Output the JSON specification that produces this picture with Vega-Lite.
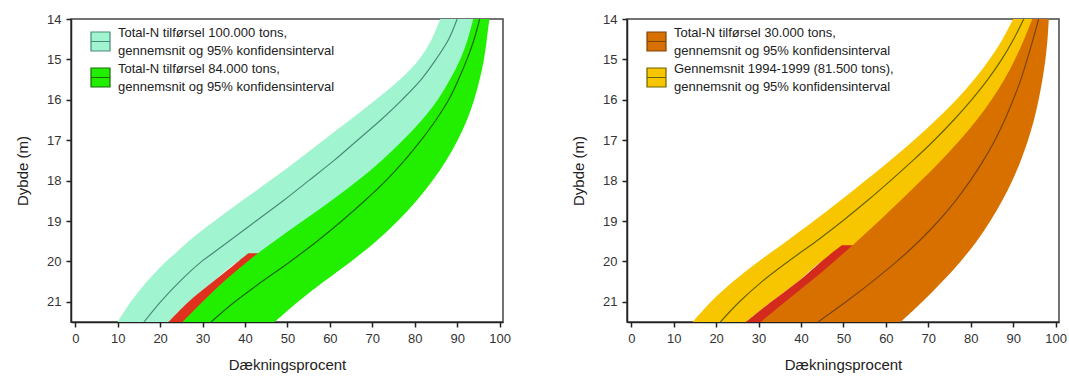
{
  "$schema": "https://vega.github.io/schema/vega-lite/v6.json",
  "background": "white",
  "padding": {"left": 14, "top": 12, "right": 6, "bottom": 3},
  "spacing": 58,
  "datasets": {
    "left": [
      {"grp": "A", "series": "100.000 tons", "depth": 14, "lo": 86, "mean": 90, "hi": 94.5},
      {"grp": "A", "series": "100.000 tons", "depth": 14.5, "lo": 84, "mean": 88, "hi": 93.5},
      {"grp": "A", "series": "100.000 tons", "depth": 15, "lo": 81, "mean": 85, "hi": 92},
      {"grp": "A", "series": "100.000 tons", "depth": 15.5, "lo": 76.5, "mean": 81.5, "hi": 90},
      {"grp": "A", "series": "100.000 tons", "depth": 16, "lo": 70.8, "mean": 77, "hi": 87.5},
      {"grp": "A", "series": "100.000 tons", "depth": 16.5, "lo": 64.7, "mean": 72, "hi": 84.5},
      {"grp": "A", "series": "100.000 tons", "depth": 17, "lo": 58.5, "mean": 66.5, "hi": 80},
      {"grp": "A", "series": "100.000 tons", "depth": 17.5, "lo": 52.3, "mean": 61, "hi": 75},
      {"grp": "A", "series": "100.000 tons", "depth": 18, "lo": 45.9, "mean": 55, "hi": 69.5},
      {"grp": "A", "series": "100.000 tons", "depth": 18.5, "lo": 39.3, "mean": 49, "hi": 63},
      {"grp": "A", "series": "100.000 tons", "depth": 19, "lo": 32.8, "mean": 42.6, "hi": 56.5},
      {"grp": "A", "series": "100.000 tons", "depth": 19.5, "lo": 26.7, "mean": 36.2, "hi": 49.5},
      {"grp": "A", "series": "100.000 tons", "depth": 19.8, "lo": 23.6, "mean": 32.4, "hi": 44},
      {"grp": "A", "series": "100.000 tons", "depth": 20, "lo": 21.4, "mean": 29.8, "hi": 38.4},
      {"grp": "A", "series": "100.000 tons", "depth": 20.5, "lo": 16.9, "mean": 24.6, "hi": 32.5},
      {"grp": "A", "series": "100.000 tons", "depth": 21, "lo": 13.1, "mean": 20.1, "hi": 26.7},
      {"grp": "A", "series": "100.000 tons", "depth": 21.5, "lo": 10, "mean": 16.2, "hi": 22},
      {"grp": "B", "series": "84.000 tons", "depth": 14, "lo": 93.8, "mean": 95.3, "hi": 97.6},
      {"grp": "B", "series": "84.000 tons", "depth": 14.5, "lo": 92.5, "mean": 94, "hi": 97},
      {"grp": "B", "series": "84.000 tons", "depth": 15, "lo": 90.7, "mean": 92.3, "hi": 96.3},
      {"grp": "B", "series": "84.000 tons", "depth": 15.5, "lo": 88.3, "mean": 90.3, "hi": 95.3},
      {"grp": "B", "series": "84.000 tons", "depth": 16, "lo": 85.4, "mean": 88, "hi": 94},
      {"grp": "B", "series": "84.000 tons", "depth": 16.5, "lo": 81.7, "mean": 85, "hi": 92.3},
      {"grp": "B", "series": "84.000 tons", "depth": 17, "lo": 77.2, "mean": 81.5, "hi": 90.1},
      {"grp": "B", "series": "84.000 tons", "depth": 17.5, "lo": 72.2, "mean": 77.6, "hi": 87.4},
      {"grp": "B", "series": "84.000 tons", "depth": 18, "lo": 66.6, "mean": 73.2, "hi": 84.2},
      {"grp": "B", "series": "84.000 tons", "depth": 18.5, "lo": 60.3, "mean": 68.2, "hi": 80.4},
      {"grp": "B", "series": "84.000 tons", "depth": 19, "lo": 53.6, "mean": 62.8, "hi": 76},
      {"grp": "B", "series": "84.000 tons", "depth": 19.5, "lo": 46.9, "mean": 57, "hi": 70.9},
      {"grp": "B", "series": "84.000 tons", "depth": 20, "lo": 40.6, "mean": 50.7, "hi": 65},
      {"grp": "B", "series": "84.000 tons", "depth": 20.5, "lo": 35, "mean": 44, "hi": 58.6},
      {"grp": "B", "series": "84.000 tons", "depth": 21, "lo": 30, "mean": 37.6, "hi": 52.5},
      {"grp": "B", "series": "84.000 tons", "depth": 21.5, "lo": 25.3, "mean": 32, "hi": 47},
      {"grp": "R", "series": "rød", "depth": 19.8, "lo": 40.8, "hi": 43.3},
      {"grp": "R", "series": "rød", "depth": 20, "lo": 38.4, "hi": 40.9},
      {"grp": "R", "series": "rød", "depth": 20.5, "lo": 32.5, "hi": 35.3},
      {"grp": "R", "series": "rød", "depth": 21, "lo": 26.7, "hi": 30.3},
      {"grp": "R", "series": "rød", "depth": 21.5, "lo": 22, "hi": 25.6}
    ],
    "right": [
      {"grp": "Y", "series": "81.500 tons", "depth": 14, "lo": 90, "mean": 92.5, "hi": 95.5},
      {"grp": "Y", "series": "81.500 tons", "depth": 14.5, "lo": 87.5, "mean": 90.1, "hi": 93.8},
      {"grp": "Y", "series": "81.500 tons", "depth": 15, "lo": 84.4, "mean": 87.3, "hi": 92},
      {"grp": "Y", "series": "81.500 tons", "depth": 15.5, "lo": 80.8, "mean": 84, "hi": 90},
      {"grp": "Y", "series": "81.500 tons", "depth": 16, "lo": 76.6, "mean": 80.2, "hi": 87.5},
      {"grp": "Y", "series": "81.500 tons", "depth": 16.5, "lo": 71.8, "mean": 76, "hi": 84},
      {"grp": "Y", "series": "81.500 tons", "depth": 17, "lo": 66.6, "mean": 71.4, "hi": 80.5},
      {"grp": "Y", "series": "81.500 tons", "depth": 17.5, "lo": 61, "mean": 66.4, "hi": 76},
      {"grp": "Y", "series": "81.500 tons", "depth": 18, "lo": 55.2, "mean": 61.1, "hi": 71},
      {"grp": "Y", "series": "81.500 tons", "depth": 18.5, "lo": 49.2, "mean": 55.6, "hi": 65},
      {"grp": "Y", "series": "81.500 tons", "depth": 19, "lo": 43, "mean": 49.8, "hi": 59},
      {"grp": "Y", "series": "81.500 tons", "depth": 19.5, "lo": 36.6, "mean": 43.6, "hi": 54.5},
      {"grp": "Y", "series": "81.500 tons", "depth": 19.6, "lo": 35.3, "mean": 42.3, "hi": 52.4},
      {"grp": "Y", "series": "81.500 tons", "depth": 20, "lo": 30, "mean": 37, "hi": 44.8},
      {"grp": "Y", "series": "81.500 tons", "depth": 20.5, "lo": 24, "mean": 30.8, "hi": 39.3},
      {"grp": "Y", "series": "81.500 tons", "depth": 21, "lo": 18.8, "mean": 25.5, "hi": 33},
      {"grp": "Y", "series": "81.500 tons", "depth": 21.5, "lo": 14.5, "mean": 21, "hi": 27},
      {"grp": "O", "series": "30.000 tons", "depth": 14, "lo": 94.5, "mean": 96, "hi": 98.4},
      {"grp": "O", "series": "30.000 tons", "depth": 14.5, "lo": 92.6, "mean": 94.7, "hi": 98.1},
      {"grp": "O", "series": "30.000 tons", "depth": 15, "lo": 90.4, "mean": 93.3, "hi": 97.6},
      {"grp": "O", "series": "30.000 tons", "depth": 15.5, "lo": 87.9, "mean": 91.8, "hi": 96.9},
      {"grp": "O", "series": "30.000 tons", "depth": 16, "lo": 84.9, "mean": 90, "hi": 96},
      {"grp": "O", "series": "30.000 tons", "depth": 16.5, "lo": 81.4, "mean": 88, "hi": 94.9},
      {"grp": "O", "series": "30.000 tons", "depth": 17, "lo": 77.4, "mean": 85.7, "hi": 93.5},
      {"grp": "O", "series": "30.000 tons", "depth": 17.5, "lo": 73, "mean": 83, "hi": 91.8},
      {"grp": "O", "series": "30.000 tons", "depth": 18, "lo": 68.3, "mean": 79.9, "hi": 89.8},
      {"grp": "O", "series": "30.000 tons", "depth": 18.5, "lo": 63.4, "mean": 76.4, "hi": 87.4},
      {"grp": "O", "series": "30.000 tons", "depth": 19, "lo": 58.4, "mean": 72.4, "hi": 84.6},
      {"grp": "O", "series": "30.000 tons", "depth": 19.5, "lo": 53.2, "mean": 67.8, "hi": 81.4},
      {"grp": "O", "series": "30.000 tons", "depth": 20, "lo": 47.8, "mean": 62.6, "hi": 77.6},
      {"grp": "O", "series": "30.000 tons", "depth": 20.5, "lo": 42.2, "mean": 56.8, "hi": 73.3},
      {"grp": "O", "series": "30.000 tons", "depth": 21, "lo": 36.3, "mean": 50.6, "hi": 68.6},
      {"grp": "O", "series": "30.000 tons", "depth": 21.5, "lo": 30.5, "mean": 44, "hi": 63.5},
      {"grp": "R", "series": "rød", "depth": 19.6, "lo": 49.6, "hi": 52.4},
      {"grp": "R", "series": "rød", "depth": 20, "lo": 44.8, "hi": 48.2},
      {"grp": "R", "series": "rød", "depth": 20.5, "lo": 39.3, "hi": 42.6},
      {"grp": "R", "series": "rød", "depth": 21, "lo": 33, "hi": 36.6},
      {"grp": "R", "series": "rød", "depth": 21.5, "lo": 27, "hi": 30.8}
    ]
  },
  "hconcat": [
    {
      "width": 432,
      "height": 303,
      "data": {"name": "left"},
      "encoding": {
        "y": {"field": "depth", "type": "quantitative", "scale": {"domain": [14, 21.5], "reverse": true, "nice": false, "zero": false}, "axis": {"title": "Dybde (m)", "values": [14, 15, 16, 17, 18, 19, 20, 21]}}
      },
      "layer": [
        {
          "transform": [{"filter": "datum.grp === 'A'"}],
          "mark": {"type": "area", "orient": "horizontal", "interpolate": "catmull-rom"},
          "encoding": {
            "x": {"field": "lo", "type": "quantitative", "scale": {"domain": [-1, 100.8], "nice": false, "zero": false}, "axis": {"title": "Dækningsprocent", "values": [0, 10, 20, 30, 40, 50, 60, 70, 80, 90, 100]}},
            "x2": {"field": "hi"},
            "fill": {"field": "series", "type": "nominal", "scale": {"domain": ["100.000 tons", "84.000 tons"], "range": ["#a0f5d0", "#22ee00"]},
              "legend": {"title": null, "orient": "none", "legendX": 19, "legendY": 12, "symbolType": "M-1,-1H1V1H-1Z M-1,0H1", "symbolSize": 361, "symbolStrokeWidth": 1.2, "labelFontSize": 13, "labelColor": "#222", "labelOffset": 7, "labelBaseline": "line-bottom", "rowPadding": 4, "labelLimit": 0, "padding": 0,
                "labelExpr": "datum.label === '100.000 tons' ? ['Total-N tilførsel 100.000 tons,', 'gennemsnit og 95% konfidensinterval'] : ['Total-N tilførsel 84.000 tons,', 'gennemsnit og 95% konfidensinterval']"}}
          }
        },
        {
          "transform": [{"filter": "datum.grp === 'R'"}],
          "mark": {"type": "area", "orient": "horizontal", "interpolate": "catmull-rom", "color": "#e0301e"},
          "encoding": {
            "x": {"field": "lo", "type": "quantitative", "scale": {"domain": [-1, 100.8], "nice": false, "zero": false}, "axis": {"title": "Dækningsprocent", "values": [0, 10, 20, 30, 40, 50, 60, 70, 80, 90, 100]}},
            "x2": {"field": "hi"}
          }
        },
        {
          "transform": [{"filter": "datum.grp === 'B'"}],
          "mark": {"type": "area", "orient": "horizontal", "interpolate": "catmull-rom"},
          "encoding": {
            "x": {"field": "lo", "type": "quantitative", "scale": {"domain": [-1, 100.8], "nice": false, "zero": false}, "axis": {"title": "Dækningsprocent", "values": [0, 10, 20, 30, 40, 50, 60, 70, 80, 90, 100]}},
            "x2": {"field": "hi"},
            "fill": {"field": "series", "type": "nominal", "scale": {"domain": ["100.000 tons", "84.000 tons"], "range": ["#a0f5d0", "#22ee00"]},
              "legend": {"title": null, "orient": "none", "legendX": 19, "legendY": 12, "symbolType": "M-1,-1H1V1H-1Z M-1,0H1", "symbolSize": 361, "symbolStrokeWidth": 1.2, "labelFontSize": 13, "labelColor": "#222", "labelOffset": 7, "labelBaseline": "line-bottom", "rowPadding": 4, "labelLimit": 0, "padding": 0,
                "labelExpr": "datum.label === '100.000 tons' ? ['Total-N tilførsel 100.000 tons,', 'gennemsnit og 95% konfidensinterval'] : ['Total-N tilførsel 84.000 tons,', 'gennemsnit og 95% konfidensinterval']"}}
          }
        },
        {
          "transform": [{"filter": "datum.grp !== 'R'"}],
          "mark": {"type": "line", "strokeWidth": 1.2, "interpolate": "catmull-rom"},
          "encoding": {
            "x": {"field": "mean", "type": "quantitative", "scale": {"domain": [-1, 100.8], "nice": false, "zero": false}, "axis": {"title": "Dækningsprocent", "values": [0, 10, 20, 30, 40, 50, 60, 70, 80, 90, 100]}},
            "order": {"field": "depth", "type": "quantitative"},
            "stroke": {"field": "series", "type": "nominal", "scale": {"domain": ["100.000 tons", "84.000 tons"], "range": ["#4a8a7a", "#1a6a10"]},
              "legend": {"title": null, "orient": "none", "legendX": 19, "legendY": 12, "symbolType": "M-1,-1H1V1H-1Z M-1,0H1", "symbolSize": 361, "symbolStrokeWidth": 1.2, "labelFontSize": 13, "labelColor": "#222", "labelOffset": 7, "labelBaseline": "line-bottom", "rowPadding": 4, "labelLimit": 0, "padding": 0,
                "labelExpr": "datum.label === '100.000 tons' ? ['Total-N tilførsel 100.000 tons,', 'gennemsnit og 95% konfidensinterval'] : ['Total-N tilførsel 84.000 tons,', 'gennemsnit og 95% konfidensinterval']"}}
          }
        }
      ]
    },
    {
      "width": 432,
      "height": 303,
      "data": {"name": "right"},
      "encoding": {
        "y": {"field": "depth", "type": "quantitative", "scale": {"domain": [14, 21.5], "reverse": true, "nice": false, "zero": false}, "axis": {"title": "Dybde (m)", "values": [14, 15, 16, 17, 18, 19, 20, 21]}}
      },
      "layer": [
        {
          "transform": [{"filter": "datum.grp === 'Y'"}],
          "mark": {"type": "area", "orient": "horizontal", "interpolate": "catmull-rom"},
          "encoding": {
            "x": {"field": "lo", "type": "quantitative", "scale": {"domain": [-1, 100.8], "nice": false, "zero": false}, "axis": {"title": "Dækningsprocent", "values": [0, 10, 20, 30, 40, 50, 60, 70, 80, 90, 100]}},
            "x2": {"field": "hi"},
            "fill": {"field": "series", "type": "nominal", "scale": {"domain": ["30.000 tons", "81.500 tons"], "range": ["#d87000", "#f8c600"]},
              "legend": {"title": null, "orient": "none", "legendX": 19, "legendY": 12, "symbolType": "M-1,-1H1V1H-1Z M-1,0H1", "symbolSize": 361, "symbolStrokeWidth": 1.2, "labelFontSize": 13, "labelColor": "#222", "labelOffset": 7, "labelBaseline": "line-bottom", "rowPadding": 4, "labelLimit": 0, "padding": 0,
                "labelExpr": "datum.label === '30.000 tons' ? ['Total-N tilførsel 30.000 tons,', 'gennemsnit og 95% konfidensinterval'] : ['Gennemsnit 1994-1999 (81.500 tons),', 'gennemsnit og 95% konfidensinterval']"}}
          }
        },
        {
          "transform": [{"filter": "datum.grp === 'R'"}],
          "mark": {"type": "area", "orient": "horizontal", "interpolate": "catmull-rom", "color": "#d42a1e"},
          "encoding": {
            "x": {"field": "lo", "type": "quantitative", "scale": {"domain": [-1, 100.8], "nice": false, "zero": false}, "axis": {"title": "Dækningsprocent", "values": [0, 10, 20, 30, 40, 50, 60, 70, 80, 90, 100]}},
            "x2": {"field": "hi"}
          }
        },
        {
          "transform": [{"filter": "datum.grp === 'O'"}],
          "mark": {"type": "area", "orient": "horizontal", "interpolate": "catmull-rom"},
          "encoding": {
            "x": {"field": "lo", "type": "quantitative", "scale": {"domain": [-1, 100.8], "nice": false, "zero": false}, "axis": {"title": "Dækningsprocent", "values": [0, 10, 20, 30, 40, 50, 60, 70, 80, 90, 100]}},
            "x2": {"field": "hi"},
            "fill": {"field": "series", "type": "nominal", "scale": {"domain": ["30.000 tons", "81.500 tons"], "range": ["#d87000", "#f8c600"]},
              "legend": {"title": null, "orient": "none", "legendX": 19, "legendY": 12, "symbolType": "M-1,-1H1V1H-1Z M-1,0H1", "symbolSize": 361, "symbolStrokeWidth": 1.2, "labelFontSize": 13, "labelColor": "#222", "labelOffset": 7, "labelBaseline": "line-bottom", "rowPadding": 4, "labelLimit": 0, "padding": 0,
                "labelExpr": "datum.label === '30.000 tons' ? ['Total-N tilførsel 30.000 tons,', 'gennemsnit og 95% konfidensinterval'] : ['Gennemsnit 1994-1999 (81.500 tons),', 'gennemsnit og 95% konfidensinterval']"}}
          }
        },
        {
          "transform": [{"filter": "datum.grp !== 'R'"}],
          "mark": {"type": "line", "strokeWidth": 1.2, "interpolate": "catmull-rom"},
          "encoding": {
            "x": {"field": "mean", "type": "quantitative", "scale": {"domain": [-1, 100.8], "nice": false, "zero": false}, "axis": {"title": "Dækningsprocent", "values": [0, 10, 20, 30, 40, 50, 60, 70, 80, 90, 100]}},
            "order": {"field": "depth", "type": "quantitative"},
            "stroke": {"field": "series", "type": "nominal", "scale": {"domain": ["30.000 tons", "81.500 tons"], "range": ["#7a4510", "#6a6400"]},
              "legend": {"title": null, "orient": "none", "legendX": 19, "legendY": 12, "symbolType": "M-1,-1H1V1H-1Z M-1,0H1", "symbolSize": 361, "symbolStrokeWidth": 1.2, "labelFontSize": 13, "labelColor": "#222", "labelOffset": 7, "labelBaseline": "line-bottom", "rowPadding": 4, "labelLimit": 0, "padding": 0,
                "labelExpr": "datum.label === '30.000 tons' ? ['Total-N tilførsel 30.000 tons,', 'gennemsnit og 95% konfidensinterval'] : ['Gennemsnit 1994-1999 (81.500 tons),', 'gennemsnit og 95% konfidensinterval']"}}
          }
        }
      ]
    }
  ],
  "resolve": {"scale": {"fill": "independent", "stroke": "independent"}},
  "config": {
    "font": "Liberation Sans",
    "view": {"stroke": "#444", "strokeWidth": 1.5},
    "axis": {"grid": false, "domainColor": "#222", "domainWidth": 1.5, "tickColor": "#222", "tickWidth": 1.5, "tickSize": 5, "labelFontSize": 13, "labelColor": "#333", "labelPadding": 5, "titleFontSize": 15, "titleFontWeight": "normal", "titleColor": "#222"},
    "axisY": {"titlePadding": 16},
    "axisX": {"titlePadding": 12},
    "style": {"guide-label": {"lineHeight": 18}}
  }
}
